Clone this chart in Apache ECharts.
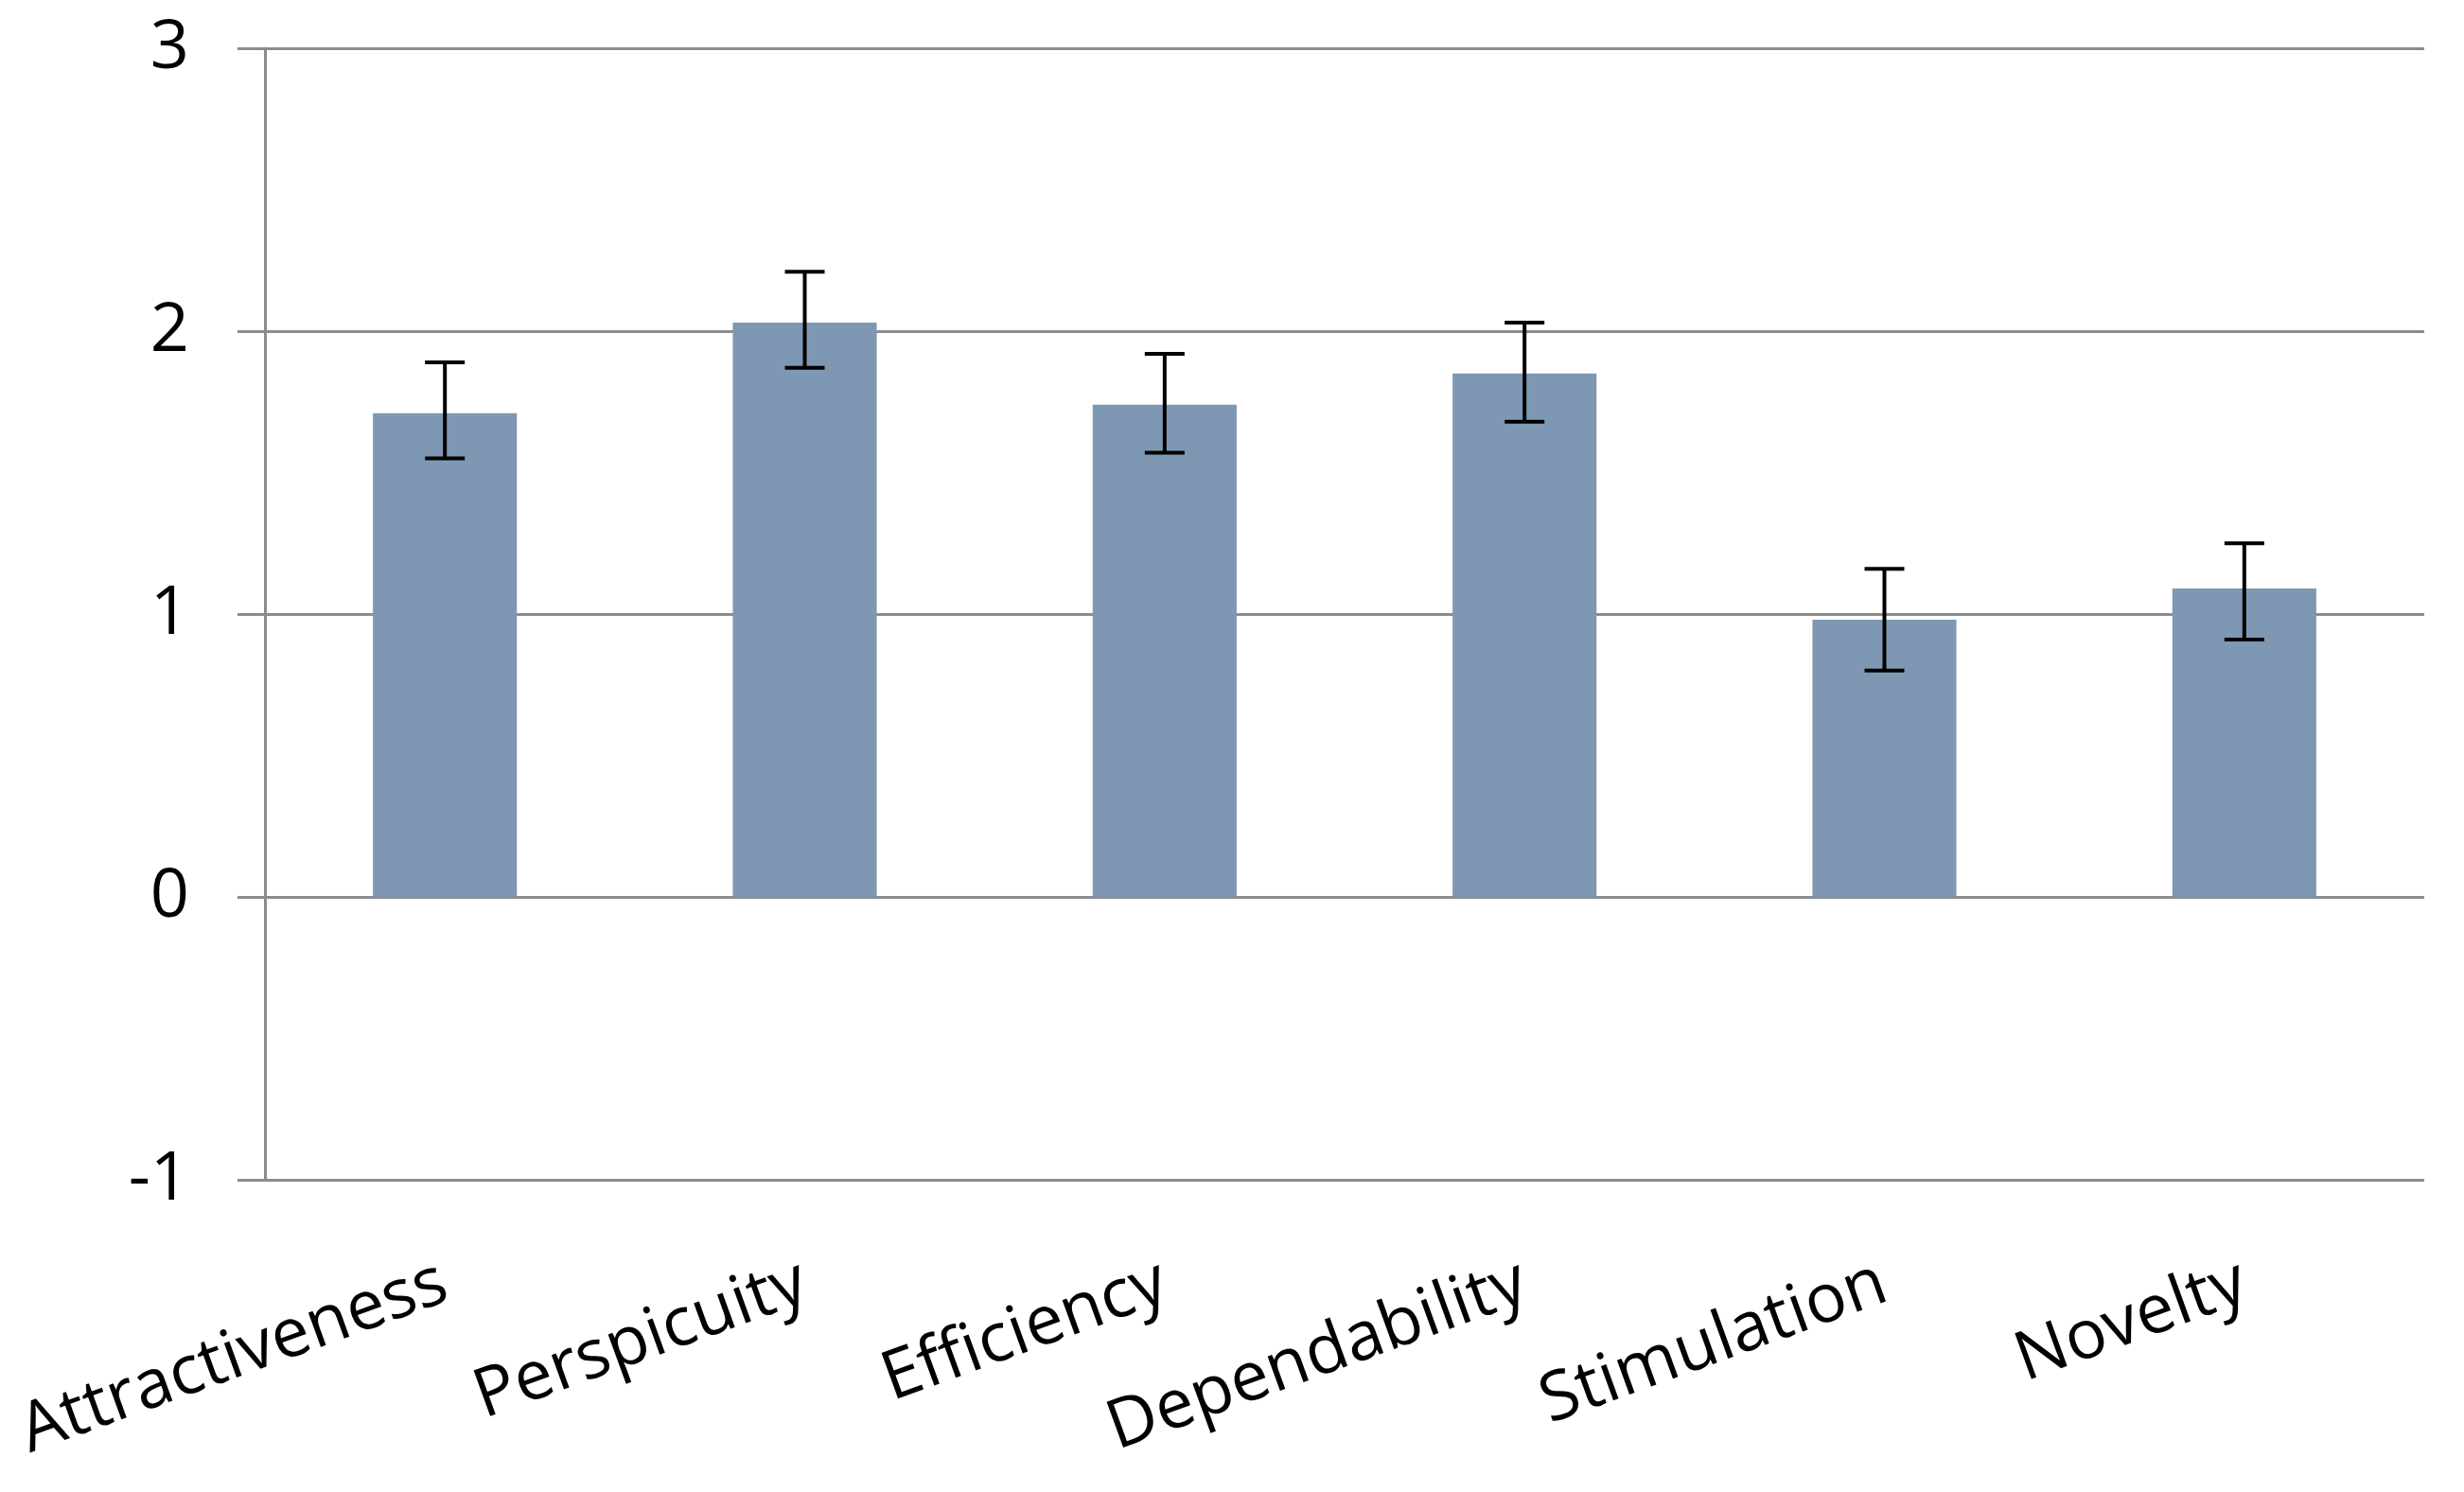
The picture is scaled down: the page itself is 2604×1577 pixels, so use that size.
<!DOCTYPE html>
<html>
<head>
<meta charset="utf-8">
<script src="https://cdn.jsdelivr.net/npm/echarts@6/dist/echarts.min.js"></script>
<style>
html,body{margin:0;padding:0;background:#fff;}
#chart{width:2604px;height:1577px;}
</style>
</head>
<body>
<div id="chart"></div>
<script>
const categories = ['Attractiveness', 'Perspicuity', 'Efficiency', 'Dependability', 'Stimulation', 'Novelty'];
const means = [1.71, 2.03, 1.74, 1.85, 0.98, 1.09];
const lowers = [1.55, 1.87, 1.57, 1.68, 0.80, 0.91];
const uppers = [1.89, 2.21, 1.92, 2.03, 1.16, 1.25];
const yTicks = [-1, 0, 1, 2, 3];

const gridColor = '#8c8c8c';
const fontFamily = "'Open Sans', 'Noto Sans', sans-serif";

const errData = categories.map((c, i) => [i, lowers[i], uppers[i]]);

const chart = echarts.init(document.getElementById('chart'), null, {renderer: 'canvas'});
chart.setOption({
  backgroundColor: '#ffffff',
  animation: false,
  grid: {left: 280, right: 42, top: 51, bottom: 330, containLabel: false},
  xAxis: {
    type: 'category',
    data: categories,
    boundaryGap: true,
    axisLine: {show: false, onZero: false},
    axisTick: {show: false},
    splitLine: {show: false},
    axisLabel: {
      interval: 0,
      rotate: 20,
      margin: 107,
      fontSize: 72,
      fontFamily: fontFamily,
      color: '#000000'
    }
  },
  yAxis: {
    type: 'value',
    min: yTicks[0],
    max: yTicks[yTicks.length - 1],
    interval: 1,
    axisLine: {show: true, lineStyle: {color: gridColor, width: 3}},
    axisTick: {show: true, length: 29, lineStyle: {color: gridColor, width: 3}},
    splitLine: {show: true, lineStyle: {color: gridColor, width: 3}},
    axisLabel: {
      margin: 80,
      fontSize: 72,
      fontFamily: fontFamily,
      color: '#000000'
    }
  },
  series: [
    {
      type: 'bar',
      data: means,
      barWidth: '40%',
      itemStyle: {color: '#7E98B3'},
      z: 2
    },
    {
      type: 'custom',
      data: errData,
      z: 5,
      renderItem: function (params, api) {
        const x = api.value(0);
        const lo = api.coord([x, api.value(1)]);
        const hi = api.coord([x, api.value(2)]);
        const half = 21;
        const style = {stroke: '#000000', lineWidth: 4};
        return {
          type: 'group',
          children: [
            {type: 'line', shape: {x1: hi[0], y1: hi[1], x2: lo[0], y2: lo[1]}, style: style},
            {type: 'line', shape: {x1: hi[0] - half, y1: hi[1], x2: hi[0] + half, y2: hi[1]}, style: style},
            {type: 'line', shape: {x1: lo[0] - half, y1: lo[1], x2: lo[0] + half, y2: lo[1]}, style: style}
          ]
        };
      }
    }
  ]
});
</script>
</body>
</html>
